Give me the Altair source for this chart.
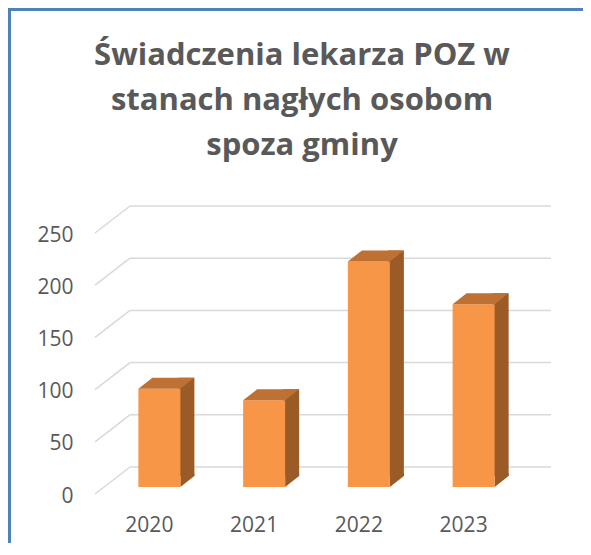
import altair as alt
import pandas as pd

YEARS = ["2020", "2021", "2022", "2023"]
VALUES = [94, 83, 216, 175]
Y_TICKS = [0, 50, 100, 150, 200, 250]
TITLE_LINES = ["Świadczenia lekarza POZ w", "stanach nagłych osobom", "spoza gminy"]

FRONT = "#F79646"
SIDE = "#9B5B27"
TOPC = "#BF7133"
GRID = "#D9D9D9"
TEXT = "#595959"
BORDER = "#4F81BD"

bars = pd.DataFrame({"year": YEARS, "value": VALUES})
ticks = pd.DataFrame({"value": Y_TICKS})
title_df = pd.DataFrame({"t": ["\n".join(TITLE_LINES)]})
one = pd.DataFrame({"k": [0]})

W, H = 419, 261

xenc = alt.X(
    "year:N",
    sort=YEARS,
    scale=alt.Scale(paddingInner=0, paddingOuter=0),
    axis=alt.Axis(
        title=None, domain=False, tickSize=0, labelAngle=0, labelOffset=-10,
        labelPadding=38, labelBaseline="middle", labelFont="Open Sans",
        labelFontSize=21, labelColor=TEXT,
    ),
)
yenc = alt.Y(
    "value:Q",
    scale=alt.Scale(domain=[0, 250], nice=False, zero=True),
    axis=alt.Axis(
        title=None, values=Y_TICKS, grid=False, domain=False, tickSize=0,
        labelPadding=34, labelOffset=9, labelBaseline="middle",
        labelFont="Open Sans", labelFontSize=21, labelColor=TEXT,
    ),
)

TOP_PATH = "M-1,0.1964L0.5,0.1964L1,-0.1964L-0.5,-0.1964Z"
QUAD_PATH = "M-1,-1L1,-1L1,-0.5714L-1,1Z"

back = alt.Chart(ticks).mark_rule(color=GRID, strokeWidth=1.5, yOffset=-20).encode(
    y=yenc, x=alt.value(23), x2=alt.value(444)
)
diag = alt.Chart(ticks).mark_rule(color=GRID, strokeWidth=1.5, yOffset=7, y2Offset=-20).encode(
    y=yenc, y2=alt.Y2("value:Q"), x=alt.value(-12), x2=alt.value(23)
)
side = alt.Chart(bars).mark_bar(size=16, xOffset=27, yOffset=-11, y2Offset=-11, color=SIDE).encode(
    x=xenc, y=yenc, y2=alt.datum(0)
)
quad = alt.Chart(bars).mark_point(
    shape=QUAD_PATH, size=196, filled=True, color=SIDE, opacity=1, strokeWidth=0,
    xOffset=28, yOffset=-7,
).encode(x=xenc, y=alt.datum(0))
front = alt.Chart(bars).mark_bar(size=42, color=FRONT).encode(x=xenc, y=yenc)
top = alt.Chart(bars).mark_point(
    shape=TOP_PATH, size=3136, filled=True, color=TOPC, opacity=1, strokeWidth=0,
    xOffset=7, yOffset=-5.5,
).encode(x=xenc, y=yenc)

title = alt.Chart(title_df).mark_text(
    font="Open Sans", fontSize=31, fontWeight="bold", color=TEXT,
    lineBreak="\n", lineHeight=45, align="center", baseline="alphabetic",
).encode(text="t:N", x=alt.value(195), y=alt.value(-161))

border = alt.Chart(one).mark_rect(fillOpacity=0, stroke=BORDER, strokeWidth=4).encode(
    x=alt.value(-98), x2=alt.value(520), y=alt.value(-217), y2=alt.value(400)
)

chart = alt.layer(back, diag, side, quad, front, top, title, border).properties(
    width=W,
    height=H,
    autosize=alt.AutoSizeParams(type="none"),
    padding={"left": 99, "top": 218, "right": 57, "bottom": 56},
    background="white",
).configure_view(strokeWidth=0)

chart.save("out.html", embed_options={"renderer": "svg", "actions": False})
